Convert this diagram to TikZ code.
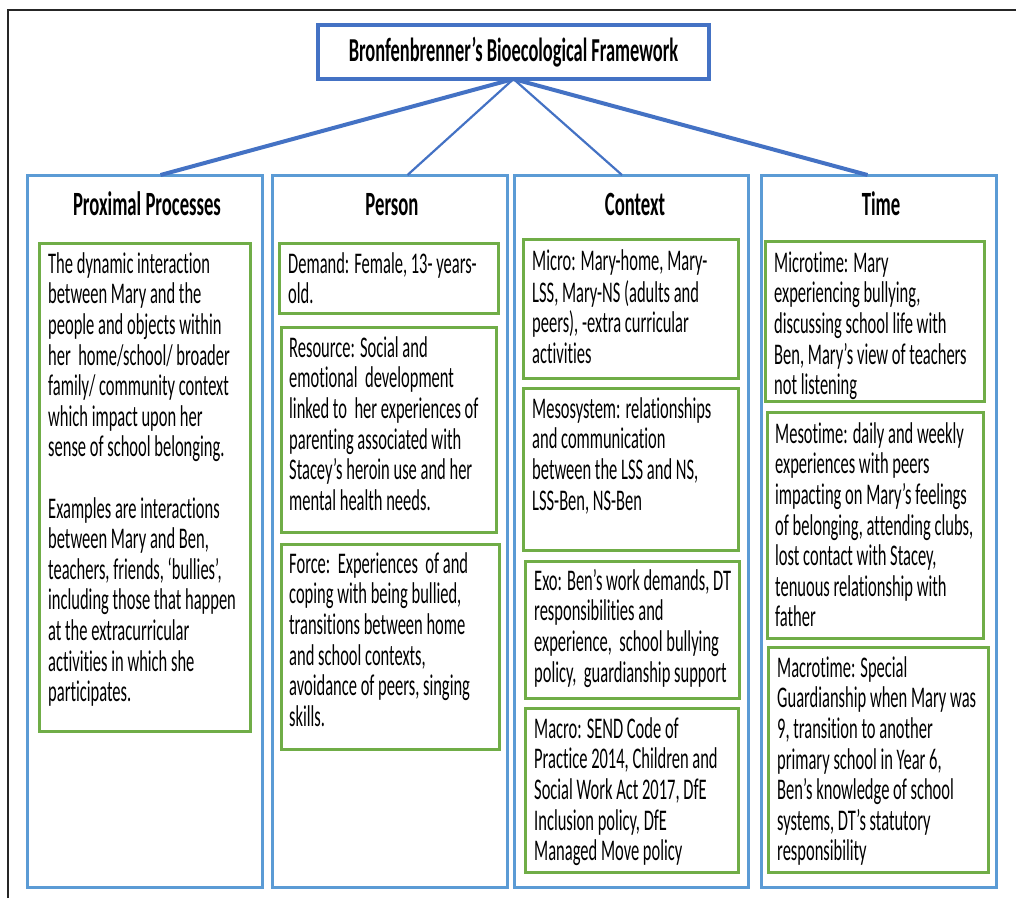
\documentclass[tikz,border=0pt]{standalone}
\usepackage{fontspec}
\setmainfont{Carlito}[FakeStretch=0.55, Ligatures=NoCommon]
\definecolor{colblue}{HTML}{5B9BD5}
\definecolor{darkblue}{HTML}{4472C4}
\definecolor{boxgreen}{HTML}{70AD47}
\tikzset{
  colbox/.style={draw=colblue, line width=3pt, inner sep=0pt, outer sep=0pt},
  gbox/.style={draw=boxgreen, line width=3pt, inner sep=0pt, outer sep=0pt},
  titlebox/.style={draw=darkblue, line width=3.5pt, inner sep=0pt, outer sep=0pt, font=\bfseries\fontsize{33.5}{36}\selectfont},
  head/.style={font=\bfseries\fontsize{34}{36}\selectfont, inner sep=0pt, anchor=base},
  bodytext/.style={font=\fontsize{30}{30.6}\selectfont, align=left, inner sep=0pt, anchor=north west},
  thickcon/.style={draw=darkblue, line width=4pt},
  thincon/.style={draw=darkblue, line width=2.2pt},
  frame/.style={draw=black!85, line width=2pt}
}
\newcommand\gboxat[5]{\node[gbox, minimum width={#4-#2}, minimum height={#5-#3}] (#1) at ({(#2+#4)/2},{(#3+#5)/2}) {};}
\newcommand\cboxat[5]{\node[colbox, minimum width={#4-#2}, minimum height={#5-#3}] (#1) at ({(#2+#4)/2},{(#3+#5)/2}) {};}
\newcommand\btext[4]{\node[bodytext] (#1) at (#2,{#3-21.42}) {\strut #4};}
\begin{document}
\begin{tikzpicture}[x=1pt, y=-1pt]
\useasboundingbox (0,0) rectangle (1016,898);
% outer frame (partially visible)
\coordinate (fbl) at (8,898);
\coordinate (ftl) at (8,10);
\coordinate (ftr) at (1016,10);
\draw[frame] (fbl) -- (ftl) -- (ftr);

% title
\node[titlebox, minimum width=391, minimum height=54] (title) at (513.5,52) {Bronfenbrenner’s Bioecological Framework};

% columns
\cboxat{pp}{27}{175}{262}{887}
\cboxat{pe}{272}{175}{507}{887}
\cboxat{co}{514}{175}{748}{887}
\cboxat{ti}{761}{175}{996}{887}

% connectors
\draw[thickcon] (title.south) -- ([xshift=16pt]pp.north);
\draw[thincon] (title.south) -- ([xshift=18pt]pe.north);
\draw[thincon] (title.south) -- ([xshift=-9pt]co.north);
\draw[thickcon] (title.south) -- ([xshift=-11pt]ti.north);

% headers
\node[head] (pp-h) at (147,215) {Proximal Processes};
\node[head] (pe-h) at (392,215) {Person};
\node[head] (co-h) at (635,215) {Context};
\node[head] (ti-h) at (881,215) {Time};

% green boxes
\gboxat{ppb}{39}{243}{250}{731}
\gboxat{dem}{279}{243}{498}{313}
\gboxat{res}{281}{327}{496}{532}
\gboxat{frc}{281}{544}{499}{749}
\gboxat{mic}{523}{239}{738}{378}
\gboxat{mes}{523}{388}{738}{550}
\gboxat{exo}{525}{561}{739}{698}
\gboxat{mac}{525}{708}{738}{872}
\gboxat{mit}{765}{241}{984}{401}
\gboxat{mst}{767}{412}{983}{638}
\gboxat{mat}{768}{647}{988}{872}

% texts
\btext{ppb-t}{48}{273}{The dynamic interaction\\between Mary and the\\people and objects within\\her\ \ home/school/ broader\\family/ community context\\which impact upon her\\sense of school belonging.\\[30.6pt]Examples are interactions\\between Mary and Ben,\\teachers, friends, ‘bullies’,\\including those that happen\\at the extracurricular\\activities in which she\\participates.}
\btext{dem-t}{288}{273}{Demand: Female, 13- years-\\old.}
\btext{res-t}{289}{357}{Resource: Social and\\emotional\ \ development\\linked to\ \ her experiences of\\parenting associated with\\Stacey’s heroin use and her\\mental health needs.}
\btext{frc-t}{289}{573}{Force:\ \ Experiences\ \ of and\\coping with being bullied,\\transitions between home\\and school contexts,\\avoidance of peers, singing\\skills.}
\btext{mic-t}{532}{270}{Micro: Mary-home, Mary-\\LSS, Mary-NS (adults and\\peers), -extra curricular\\activities}
\btext{mes-t}{532}{418}{Mesosystem: relationships\\and communication\\between the LSS and NS,\\LSS-Ben, NS-Ben}
\btext{exo-t}{534}{590}{Exo: Ben’s work demands, DT\\responsibilities and\\experience,\ \ school bullying\\policy,\ \ guardianship support}
\btext{mac-t}{534}{738}{Macro: SEND Code of\\Practice 2014, Children and\\Social Work Act 2017, DfE\\Inclusion policy, DfE\\Managed Move policy}
\btext{mit-t}{774}{272}{Microtime: Mary\\experiencing bullying,\\discussing school life with\\Ben, Mary’s view of teachers\\not listening}
\btext{mst-t}{775}{443}{Mesotime: daily and weekly\\experiences with peers\\impacting on Mary’s feelings\\of belonging, attending clubs,\\lost contact with Stacey,\\tenuous relationship with\\father}
\btext{mat-t}{777}{677}{Macrotime: Special\\Guardianship when Mary was\\9, transition to another\\primary school in Year 6,\\Ben’s knowledge of school\\systems, DT’s statutory\\responsibility}
\end{tikzpicture}
\end{document}
